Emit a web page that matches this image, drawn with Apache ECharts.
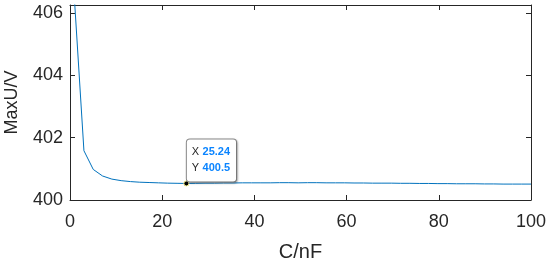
<!DOCTYPE html>
<html>
<head>
<meta charset="utf-8">
<script src="https://cdn.jsdelivr.net/npm/echarts@6/dist/echarts.min.js"></script>
<style>
  html, body { margin: 0; padding: 0; background: #fff; }
  #chart { width: 550px; height: 259px; }
</style>
</head>
<body>
<div id="chart"></div>
<script>
// C in nF (50 samples)
var capValues = [1.00, 3.02, 5.04, 7.06, 9.08, 11.10, 13.12, 15.14, 17.16, 19.18,
  21.20, 23.22, 25.24, 27.27, 29.29, 31.31, 33.33, 35.35, 37.37, 39.39,
  41.41, 43.43, 45.45, 47.47, 49.49, 51.51, 53.53, 55.55, 57.57, 59.59,
  61.61, 63.63, 65.65, 67.67, 69.69, 71.71, 73.73, 75.76, 77.78, 79.80,
  81.82, 83.84, 85.86, 87.88, 89.90, 91.92, 93.94, 95.96, 97.98, 100.00];
// MaxU in V
var maxU = [406.35, 401.58, 400.98, 400.77, 400.67, 400.62, 400.59, 400.57, 400.56, 400.55,
  400.54, 400.535, 400.53, 400.535, 400.54, 400.54, 400.545, 400.545, 400.55, 400.55,
  400.55, 400.55, 400.555, 400.555, 400.55, 400.555, 400.555, 400.55, 400.55, 400.55,
  400.545, 400.545, 400.54, 400.54, 400.54, 400.535, 400.535, 400.53, 400.53, 400.525,
  400.525, 400.52, 400.52, 400.52, 400.515, 400.515, 400.51, 400.51, 400.51, 400.51];
var xTicks = [0, 20, 40, 60, 80, 100];
var yTicks = [400, 402, 404, 406];
var tipIndex = 12; // datatip point

var axisColor = '#262626';
var font = '"Liberation Sans", Arial, sans-serif';

var chart = echarts.init(document.getElementById('chart'));

var seriesData = capValues.map(function (c, i) { return [c, maxU[i]]; });

function baseX(pos, showLabel) {
  return {
    type: 'value',
    position: pos,
    min: xTicks[0],
    max: xTicks[xTicks.length - 1],
    interval: 20,
    axisLine: { show: true, onZero: false, lineStyle: { color: axisColor, width: 1 } },
    axisTick: { show: true, inside: true, length: 5, lineStyle: { color: axisColor } },
    splitLine: { show: false },
    axisLabel: {
      show: showLabel, color: axisColor, fontSize: 18, fontFamily: font, margin: 13
    }
  };
}
function baseY(pos, showLabel) {
  return {
    type: 'value',
    position: pos,
    min: yTicks[0],
    max: 406.25,
    interval: 2,
    axisLine: { show: true, onZero: false, lineStyle: { color: axisColor, width: 1 } },
    axisTick: { show: true, inside: true, length: 5, lineStyle: { color: axisColor } },
    splitLine: { show: false },
    axisLabel: {
      show: showLabel, color: axisColor, fontSize: 18, fontFamily: font, margin: 7,
      showMaxLabel: false,
      formatter: function (v) { return yTicks.indexOf(v) >= 0 ? String(v) : ''; }
    }
  };
}

var xMain = baseX('bottom', true);
xMain.name = 'C/nF';
xMain.nameLocation = 'middle';
xMain.nameGap = 42;
xMain.nameTextStyle = { color: axisColor, fontSize: 20, fontFamily: font };

var yMain = baseY('left', true);
yMain.name = 'MaxU/V';
yMain.nameLocation = 'middle';
yMain.nameGap = 49;
yMain.nameTextStyle = { color: axisColor, fontSize: 18, fontFamily: font };

var option = {
  animation: false,
  backgroundColor: '#ffffff',
  grid: {
    left: 70, right: 19, top: 5, bottom: 59,
    containLabel: false,
    outerBoundsMode: 'none'
  },
  xAxis: [xMain, baseX('top', false)],
  yAxis: [yMain, baseY('right', false)],
  series: [{
    type: 'line',
    xAxisIndex: 0,
    yAxisIndex: 0,
    data: seriesData,
    showSymbol: false,
    symbol: 'none',
    clip: true,
    lineStyle: { color: '#0072BD', width: 1 },
    markPoint: {
      symbol: 'circle',
      symbolSize: 5,
      itemStyle: { color: '#000000', borderColor: '#f5f08a', borderWidth: 1 },
      label: {
        show: true,
        position: [3.5, 1],
        align: 'left',
        verticalAlign: 'bottom',
        backgroundColor: '#ffffff',
        borderColor: '#8c8c8c',
        borderWidth: 1,
        borderRadius: 3,
        shadowColor: 'rgba(0,0,0,0.25)',
        shadowBlur: 2,
        shadowOffsetX: 1,
        shadowOffsetY: 1,
        padding: [5, 6, 5, 5],
        lineHeight: 16,
        formatter: function (p) {
          var v = p.data.coord;
          return '{k|X} {v|' + Number(v[0]).toPrecision(4) + '}\n{k|Y} {v|' + Number(v[1]).toPrecision(4) + '}';
        },
        rich: {
          k: { color: '#262626', fontSize: 11, fontFamily: font, lineHeight: 16 },
          v: { color: '#0a84ff', fontSize: 11, fontWeight: 'bold', fontFamily: font, lineHeight: 16 }
        }
      },
      data: [{ coord: [capValues[tipIndex], maxU[tipIndex]] }]
    }
  }]
};

chart.setOption(option);
</script>
</body>
</html>
